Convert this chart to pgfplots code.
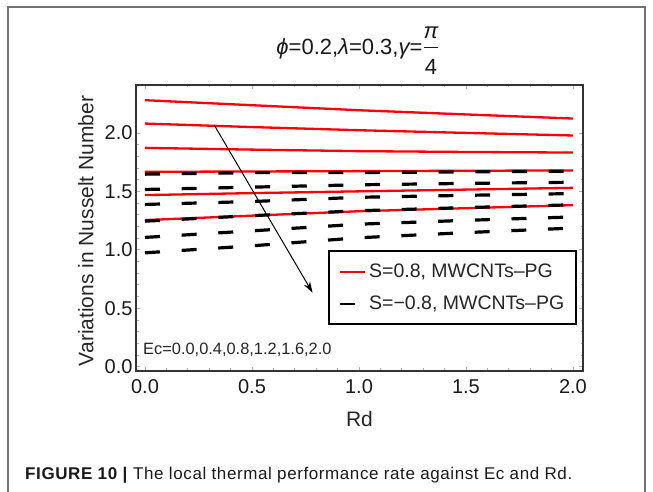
\documentclass[border=0pt]{standalone}
\usepackage{fontspec}
\setmainfont{Liberation Sans}
\usepackage{pgfplots}
\pgfplotsset{compat=1.18}
\usetikzlibrary{arrows.meta}
\newcommand\fs[1]{\fontsize{#1bp}{#1bp}\selectfont}

\begin{document}
\begin{tikzpicture}[x=1bp,y=1bp]
\useasboundingbox (0,0) rectangle (653,492);
% page frame
\draw[black!55, line width=1.2bp] (8,-10) -- (8,485) -- (645,485) -- (645,-10);

\begin{axis}[
  at={(136bp,121bp)}, anchor=south west,
  width=447bp, height=286bp, scale only axis,
  xmin=-0.042, xmax=2.047,
  ymin=-0.037, ymax=2.41,
  xtick={0,0.5,1,1.5,2},
  ytick={0,0.5,1,1.5,2},
  minor x tick num=4, minor y tick num=4,
  xticklabel style={yshift=-5bp, /pgf/number format/.cd, fixed, fixed zerofill, precision=1},
  yticklabel style={/pgf/number format/.cd, fixed, fixed zerofill, precision=1},
  /pgf/number format/assume math mode=true,
  tick label style={font=\fs{20}, text=black!90},
  tick align=inside, tick pos=both,
  major tick length=4bp, minor tick length=2.5bp,
  every tick/.style={black!30, line width=0.8bp},
  axis line style={black!80, line width=1.6bp},
  xlabel={Rd},
  ylabel={Variations in Nusselt Number},
  label style={font=\fs{21}, text=black!85},
  xlabel style={at={(axis description cs:0.5,-0.168)}, anchor=center},
  ylabel style={at={(axis description cs:-0.112,0.49)}, anchor=center},
  legend style={at={(axis description cs:0.987,0.423)}, anchor=north east,
    draw=black, line width=2bp, font=\fs{19.5}, text=black!85,
    inner xsep=10bp, inner ysep=11bp, row sep=13bp,
    /tikz/every odd column/.append style={column sep=1bp}},
  legend cell align=left,
  legend image code/.code={\draw[#1, line width=2bp] (0bp,0bp) -- (25bp,0bp);},
  clip=false,
]
% S = 0.8 (red solid), Ec = 0.0 ... 2.0
\addplot[red, line width=2.3bp] coordinates {(0,1.254) (0.5,1.292) (1,1.330) (1.5,1.356) (2,1.382)};
\addlegendentry{S=0.8, MWCNTs–PG}
\addplot[red, line width=2.3bp, forget plot] coordinates {(0,1.468) (0.5,1.485) (1,1.500) (1.5,1.515) (2,1.530)};
\addplot[red, line width=2.3bp, forget plot] coordinates {(0,1.667) (0.5,1.670) (1,1.673) (1.5,1.676) (2,1.679)};
\addplot[red, line width=2.3bp, forget plot] coordinates {(0,1.872) (0.5,1.857) (1,1.844) (1.5,1.837) (2,1.832)};
\addplot[red, line width=2.3bp, forget plot] coordinates {(0,2.080) (0.5,2.050) (1,2.023) (1.5,2.000) (2,1.978)};
\addplot[red, line width=2.3bp, forget plot] coordinates {(0,2.280) (0.5,2.237) (1,2.194) (1.5,2.158) (2,2.123)};
% S = -0.8 (black dashed)
\addplot[black, line width=3.2bp, dash pattern=on 15bp off 21.7bp] coordinates {(0,0.974) (0.5,1.034) (1,1.103) (1.5,1.147) (2,1.186)};
\addlegendentry{S=−0.8, MWCNTs–PG}
\addplot[black, line width=3.2bp, dash pattern=on 15bp off 21.7bp, forget plot] coordinates {(0,1.106) (0.5,1.162) (1,1.219) (1.5,1.252) (2,1.281)};
\addplot[black, line width=3.2bp, dash pattern=on 15bp off 21.7bp, forget plot] coordinates {(0,1.245) (0.5,1.292) (1,1.334) (1.5,1.361) (2,1.385)};
\addplot[black, line width=3.2bp, dash pattern=on 15bp off 21.7bp, forget plot] coordinates {(0,1.388) (0.5,1.413) (1,1.449) (1.5,1.466) (2,1.481)};
\addplot[black, line width=3.2bp, dash pattern=on 15bp off 21.7bp, forget plot] coordinates {(0,1.516) (0.5,1.536) (1,1.556) (1.5,1.568) (2,1.578)};
\addplot[black, line width=3.2bp, dash pattern=on 15bp off 21.7bp, forget plot] coordinates {(0,1.647) (0.5,1.660) (1,1.661) (1.5,1.667) (2,1.673)};

\draw[-{Stealth[length=11bp,width=7bp]}, line width=1bp]
  (axis cs:0.324,2.066) -- (axis cs:0.783,0.633);
\end{axis}

% title
\node[anchor=base, font=\fs{22}, text=black!90, inner sep=0pt] at (358,437)
  {{\itshape ϕ}=0.2,{\itshape λ}=0.3,{\itshape γ}=\raisebox{3bp}{$\displaystyle\frac{\hbox{\itshape π}\rule[-6bp]{0pt}{6bp}}{\rule{0pt}{26bp}\hbox{4}}$}};
% parameter note
\node[anchor=base west, font=\fs{16.4}, text=black!85, inner sep=0pt] at (143,137)
  {Ec=0.0,0.4,0.8,1.2,1.6,2.0};
% caption
\node[anchor=base west, font=\fs{17}\addfontfeatures{LetterSpace=3.5}, text=black!90, inner sep=0pt] at (25,12)
  {\textbf{FIGURE 10 |} The local thermal performance rate against Ec and Rd.};
\end{tikzpicture}
\end{document}
